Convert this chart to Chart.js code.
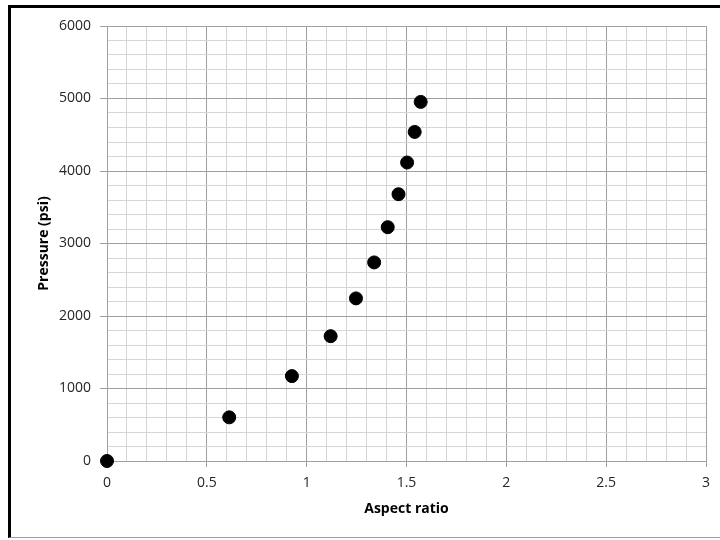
<!DOCTYPE html>
<html>
<head>
<meta charset="utf-8">
<script src="https://cdn.jsdelivr.net/npm/chart.js@4/dist/chart.umd.min.js"></script>
<style>
  html, body { margin: 0; padding: 0; background: #ffffff; }
  #wrap { position: relative; width: 720px; height: 540px; overflow: hidden; }
  #frame {
    position: absolute; left: 8px; top: 5px; width: 730px; height: 533px;
    border-left: 3px solid #000; border-top: 3px solid #000;
    border-bottom: 1px solid #a0a0a0; box-sizing: border-box;
  }
  canvas { position: absolute; left: 0; top: 0; }
</style>
</head>
<body>
<div id="wrap">
  <div id="frame"></div>
  <canvas id="graphique" width="720" height="540"></canvas>
</div>
<script>
var aspectRatio = [0, 0.612, 0.926, 1.12, 1.247, 1.338, 1.406, 1.46, 1.503, 1.541, 1.571];
var pression = [0, 602, 1171, 1722, 2243, 2739, 3225, 3680, 4117, 4539, 4953];

var xTitre = "Aspect ratio";
var yTitre = "Pressure (psi)";

var points = [];
for (var i = 0; i < aspectRatio.length; i++) {
  points.push({ x: aspectRatio[i], y: pression[i] });
}

var majeurX = function(v) { return Math.round(v * 10) % 5 === 0; };
var majeurY = function(v) { return Math.round(v) % 1000 === 0; };

var police = "'Open Sans', 'DejaVu Sans', sans-serif";

var ctx = document.getElementById("graphique").getContext("2d");
var chart = new Chart(ctx, {
  type: "scatter",
  data: {
    datasets: [{
      label: yTitre,
      data: points,
      backgroundColor: "#000000",
      borderColor: "#000000",
      pointRadius: 6.5,
      pointHoverRadius: 6.5,
      clip: false
    }]
  },
  options: {
    responsive: false,
    animation: false,
    layout: { padding: { left: 0, top: 26, right: 14, bottom: 0 } },
    plugins: { legend: { display: false }, tooltip: { enabled: false } },
    scales: {
      x: {
        type: "linear",
        min: 0,
        max: 3,
        afterFit: function(scale) { scale.height = 79; },
        ticks: {
          stepSize: 0.1,
          autoSkip: false,
          maxRotation: 0,
          padding: 8,
          color: "#262626",
          font: { family: police, size: 14 },
          callback: function(v) {
            if (!majeurX(v)) return "";
            return String(Math.round(v * 10) / 10);
          }
        },
        grid: {
          color: function(c) { return majeurX(c.tick.value) ? "#a0a0a0" : "#d6d6d6"; },
          tickColor: function(c) { return majeurX(c.tick.value) ? "#a0a0a0" : "rgba(0,0,0,0)"; },
          tickLength: 6,
          lineWidth: 1
        },
        border: { color: "#a0a0a0" },
        title: {
          display: true,
          text: xTitre,
          color: "#000000",
          font: { family: police, size: 14, weight: "bold" },
          padding: { top: 0, bottom: 23 }
        }
      },
      y: {
        type: "linear",
        min: 0,
        max: 6000,
        afterFit: function(scale) { scale.width = 107; },
        ticks: {
          stepSize: 200,
          autoSkip: false,
          padding: 9,
          color: "#262626",
          font: { family: police, size: 14 },
          callback: function(v) {
            if (!majeurY(v)) return "";
            return String(Math.round(v));
          }
        },
        grid: {
          color: function(c) { return majeurY(c.tick.value) ? "#a0a0a0" : "#d6d6d6"; },
          tickColor: function(c) { return majeurY(c.tick.value) ? "#a0a0a0" : "rgba(0,0,0,0)"; },
          tickLength: 7,
          lineWidth: 1
        },
        border: { color: "#a0a0a0" },
        title: {
          display: true,
          text: yTitre,
          color: "#000000",
          font: { family: police, size: 14, weight: "bold" },
          padding: { top: 36, bottom: 0 }
        }
      }
    }
  }
});
</script>
</body>
</html>
